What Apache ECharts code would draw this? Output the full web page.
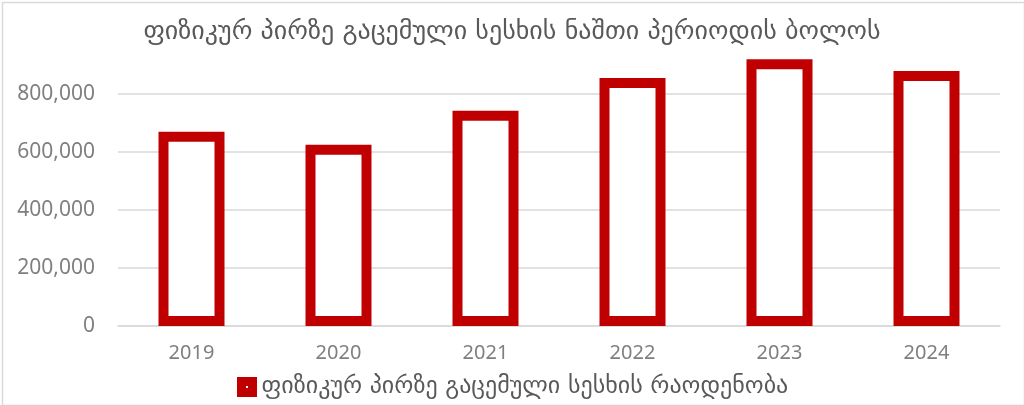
<!DOCTYPE html>
<html>
<head>
<meta charset="utf-8">
<script src="https://cdn.jsdelivr.net/npm/echarts@6/dist/echarts.min.js"></script>
<style>
html,body{margin:0;padding:0;background:#fff;}
#chart{width:1024px;height:405px;}
</style>
</head>
<body>
<div id="chart"></div>
<script>
const titleText = 'ფიზიკურ პირზე გაცემული სესხის ნაშთი პერიოდის ბოლოს';
const seriesName = 'ფიზიკურ პირზე გაცემული სესხის რაოდენობა';
const categories = ['2019', '2020', '2021', '2022', '2023', '2024'];
const values = [670000, 625000, 742000, 855000, 920000, 879000];
const yTicks = [0, 200000, 400000, 600000, 800000];

const chart = echarts.init(document.getElementById('chart'), null, {renderer: 'canvas'});
chart.setOption({
  animation: false,
  backgroundColor: '#fff',
  graphic: [{
    type: 'rect', left: 0, top: 0, z: 100, silent: true,
    shape: {x: 1, y: 1, width: 1022, height: 403},
    style: {fill: 'none', stroke: '#d9d9d9', lineWidth: 1.5}
  }],
  title: {
    text: titleText,
    left: 'center',
    top: 14,
    textStyle: {fontFamily: 'DejaVu Sans', fontSize: 26, fontWeight: 'normal', color: '#595959'}
  },
  legend: {
    data: [seriesName],
    left: 232,
    top: 370,
    itemWidth: 11,
    itemHeight: 11,
    icon: 'rect',
    itemStyle: {color: '#fff', borderColor: '#C00000', borderWidth: 9},
    textStyle: {fontFamily: 'DejaVu Sans', fontSize: 24, color: '#595959', padding: [0, 0, 0, 4]}
  },
  grid: {left: 118, right: 24, top: 94, bottom: 79, containLabel: false},
  xAxis: {
    type: 'category',
    data: categories,
    axisLine: {show: true, lineStyle: {color: '#d9d9d9', width: 1.5}},
    axisTick: {show: false},
    axisLabel: {fontFamily: 'Noto Sans', fontSize: 20, color: '#7f7f7f', margin: 17}
  },
  yAxis: {
    type: 'value',
    min: 0,
    max: yTicks[yTicks.length - 1],
    interval: yTicks[1] - yTicks[0],
    axisLine: {show: false},
    axisTick: {show: false},
    splitLine: {lineStyle: {color: '#d9d9d9', width: 1.5}},
    axisLabel: {
      fontFamily: 'Noto Sans', fontSize: 21, color: '#7f7f7f', margin: 23,
      formatter: v => v.toLocaleString('en-US')
    }
  },
  series: [{
    name: seriesName,
    type: 'bar',
    data: values,
    barWidth: 66,
    clip: false,
    itemStyle: {color: '#fff', borderColor: '#C00000', borderWidth: 10}
  }]
});
</script>
</body>
</html>
